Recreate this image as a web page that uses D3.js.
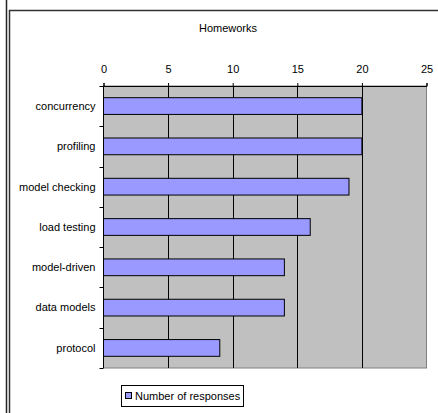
<!DOCTYPE html>
<html><head><meta charset="utf-8">
<script src="https://cdn.jsdelivr.net/npm/d3@7/dist/d3.min.js"></script>
<style>body{margin:0;background:#fff;}svg{display:block;font-family:"Liberation Sans",Arial,sans-serif;}</style>
</head><body>
<script>
const categories = ["concurrency","profiling","model checking","load testing","model-driven","data models","protocol"];
const values = [20,20,19,16,14,14,9];
const xTicks = [0,5,10,15,20,25];
const title = "Homeworks";
const seriesName = "Number of responses";

(function(){
const W = 438, H = 413;
const svg = d3.select("body").append("svg").attr("width", W).attr("height", H);

// outer frame lines
svg.append("line").attr("x1",6.5).attr("x2",6.5).attr("y1",0).attr("y2",H).attr("stroke","#222").attr("stroke-width",1.5);
svg.append("path").attr("d",`M9.5,${H} V10.5 H${W}`).attr("fill","none").attr("stroke","#333").attr("stroke-width",1.5);

const pL = 103.5, pR = 426.5, pT = 86, pB = 368;
const x = d3.scaleLinear().domain([0,25]).range([pL,pR]);
const y = d3.scaleBand().domain(categories).range([pT,pB]).paddingInner(0.585).paddingOuter(0.29);
const yb = d3.scaleBand().domain(categories).range([pT,pB]);

// plot area
svg.append("rect").attr("x",pL).attr("y",pT).attr("width",pR-pL).attr("height",pB-pT)
  .attr("fill","#c0c0c0").attr("stroke","#808080").attr("stroke-width",1);

// gridlines
svg.append("g").selectAll("line").data(xTicks.filter(d=>d>0&&d<25)).join("line")
  .attr("x1",d=>Math.round(x(d))+0.5).attr("x2",d=>Math.round(x(d))+0.5)
  .attr("y1",pT).attr("y2",pB).attr("stroke","#000").attr("stroke-width",1);

// bars
svg.append("g").selectAll("rect").data(categories).join("rect")
  .attr("x",x(0)).attr("y",(d)=>y(d)).attr("width",(d,i)=>x(values[i])-x(0)).attr("height",y.bandwidth())
  .attr("fill","#9999ff").attr("stroke","#000").attr("stroke-width",1);

// top axis
const xAxis = d3.axisTop(x).tickValues(xTicks).tickSize(3).tickPadding(10).tickFormat(d3.format("d"));
const gx = svg.append("g").attr("transform",`translate(0,${pT})`).call(xAxis);
gx.select(".domain").attr("stroke","#000");
gx.selectAll(".tick line").attr("stroke","#000");
gx.selectAll("text").attr("font-size",11).attr("fill","#000").attr("font-family","Liberation Sans, Arial, sans-serif");

// left axis
const gy = svg.append("g").attr("transform",`translate(${pL},0)`);
gy.append("line").attr("x1",0).attr("x2",0).attr("y1",pT).attr("y2",pB).attr("stroke","#000");
const bounds = categories.map(c=>yb(c)).concat([pB]);
gy.selectAll(".tk").data(bounds).join("line").attr("class","tk")
  .attr("x1",-4).attr("x2",0).attr("y1",d=>Math.round(d)+0.5).attr("y2",d=>Math.round(d)+0.5).attr("stroke","#000");
gy.selectAll("text").data(categories).join("text")
  .attr("x",-8).attr("y",d=>yb(d)+yb.bandwidth()/2).attr("dy","0.35em")
  .attr("text-anchor","end").attr("font-size",11).attr("fill","#000").text(d=>d);

// title
svg.append("text").attr("x",228).attr("y",32).attr("text-anchor","middle").attr("font-size",11).text(title);

// legend
const lg = svg.append("g");
lg.append("rect").attr("x",121.5).attr("y",385.5).attr("width",122).attr("height",21).attr("fill","#fff").attr("stroke","#000");
lg.append("rect").attr("x",125.5).attr("y",392.5).attr("width",6).attr("height",6).attr("fill","#9999ff").attr("stroke","#000");
lg.append("text").attr("x",135).attr("y",399.5).attr("font-size",11).text(seriesName);
})();
</script>
</body></html>
